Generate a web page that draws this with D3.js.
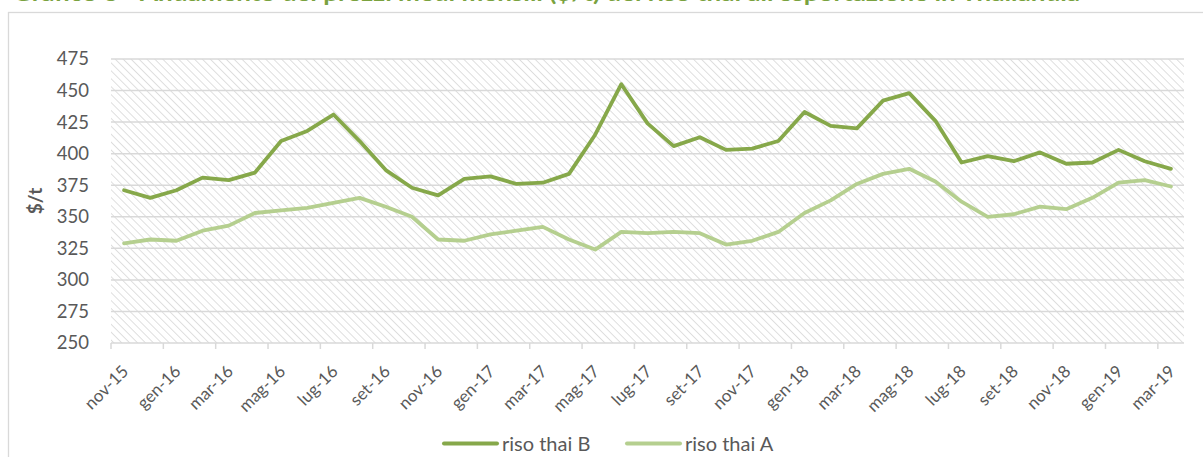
<!DOCTYPE html>
<html><head><meta charset="utf-8">
<script src="https://cdn.jsdelivr.net/npm/d3@7"></script>
<style>body{margin:0;background:#fff;}svg{display:block;font-family:Lato,"Open Sans",sans-serif;}</style>
</head><body>
<svg id="c" width="1203" height="457"></svg>
<script>
const categories = ["nov-15","dic-15","gen-16","feb-16","mar-16","apr-16","mag-16","giu-16","lug-16","ago-16","set-16","ott-16",
"nov-16","dic-16","gen-17","feb-17","mar-17","apr-17","mag-17","giu-17","lug-17","ago-17","set-17","ott-17",
"nov-17","dic-17","gen-18","feb-18","mar-18","apr-18","mag-18","giu-18","lug-18","ago-18","set-18","ott-18",
"nov-18","dic-18","gen-19","feb-19","mar-19"];
const risoThaiB = [371,365,371,381,379,385,410,418,431,410,387,373,367,380,382,376,377,384,415,455,424,406,413,403,404,410,433,422,420,442,448,426,393,398,394,401,392,393,403,394,388];
const risoThaiA = [329,332,331,339,343,353,355,357,361,365,358,350,332,331,336,339,342,332,324,338,337,338,337,328,331,338,353,363,376,384,388,378,362,350,352,358,356,365,377,379,374];
const yTicks = [250,275,300,325,350,375,400,425,450,475];
const seriesNames = ["riso thai B","riso thai A"];
const titleText = "Grafico 3 - Andamento dei prezzi medi mensili ($/t) del riso thai all'esportazione in Thailandia";

const svg = d3.select("#c");
const L = 111, R = 1184, T = 59, B = 343;
const colB = "#86a84a", colA = "#b5cf8f", grid = "#d9d9d9", txt = "#595959";

// frame
svg.append("rect").attr("x",8.5).attr("y",12.5).attr("width",1300).attr("height",500)
  .attr("fill","none").attr("stroke","#d9d9d9").attr("stroke-width",1.3);
// title (cut off at the top edge, as in the reference)
svg.append("text").attr("x",13).attr("y",1).attr("font-size",20).attr("font-weight","bold")
  .attr("fill","#7aa23f").attr("textLength",1067).attr("lengthAdjust","spacingAndGlyphs").text(titleText);

const defs = svg.append("defs");
const pat = defs.append("pattern").attr("id","hatch").attr("patternUnits","userSpaceOnUse")
  .attr("width",5.6).attr("height",5.6).attr("patternTransform","rotate(-45)");
pat.append("line").attr("x1",0).attr("y1",0).attr("x2",0).attr("y2",5.6)
  .attr("stroke","#d8d8d8").attr("stroke-width",1.6);

const x = d3.scaleBand().domain(categories).range([L,R]).padding(0);
const y = d3.scaleLinear().domain([250,475]).range([B,T]);
const cx = d => x(d) + x.bandwidth()/2;

svg.append("rect").attr("x",L).attr("y",T).attr("width",R-L).attr("height",B-T).attr("fill","url(#hatch)");

// gridlines
svg.append("g").selectAll("line").data(yTicks.filter(v=>v>250)).join("line")
  .attr("x1",L).attr("x2",R).attr("y1",d=>y(d)).attr("y2",d=>y(d))
  .attr("stroke",grid).attr("stroke-width",1.5);

// y axis labels
const yAxis = d3.axisLeft(y).tickValues(yTicks).tickSize(0).tickPadding(22);
const gy = svg.append("g").attr("transform",`translate(${L},0)`).call(yAxis);
gy.select(".domain").remove();
gy.selectAll("text").attr("font-size",18.5).attr("fill",txt).attr("font-family","Lato,'Open Sans',sans-serif");

svg.append("text").attr("transform","translate(42,201) rotate(-90)").attr("text-anchor","middle")
  .attr("font-size",19).attr("font-weight","bold").attr("fill",txt).text("$/t");

// x axis
svg.append("line").attr("x1",L).attr("x2",R).attr("y1",B).attr("y2",B).attr("stroke",grid).attr("stroke-width",1.5);
const tickIdx = d3.range(0, categories.length, 2);
svg.append("g").selectAll("line").data(tickIdx).join("line")
  .attr("x1",i=>x(categories[i])).attr("x2",i=>x(categories[i]))
  .attr("y1",B).attr("y2",B+6).attr("stroke",grid).attr("stroke-width",1.5);
svg.append("g").selectAll("text").data(tickIdx).join("text")
  .attr("transform",i=>`translate(${cx(categories[i])-3},${B+21}) rotate(-45)`)
  .attr("text-anchor","end").attr("dy","0.7em").attr("font-size",17).attr("fill",txt)
  .text(i=>categories[i]);

// lines
const line = d3.line().x((d,i)=>cx(categories[i])).y(d=>y(d));
svg.append("path").datum(risoThaiA).attr("d",line).attr("fill","none").attr("stroke",colA)
  .attr("stroke-width",3.8).attr("stroke-linejoin","round").attr("stroke-linecap","round");
svg.append("path").datum(risoThaiB).attr("d",line).attr("fill","none").attr("stroke",colB)
  .attr("stroke-width",3.8).attr("stroke-linejoin","round").attr("stroke-linecap","round");

// legend
const leg = [{n:seriesNames[0],c:colB,x:444},{n:seriesNames[1],c:colA,x:627}];
const lg = svg.append("g");
leg.forEach(d=>{
  lg.append("line").attr("x1",d.x).attr("x2",d.x+53).attr("y1",443.5).attr("y2",443.5)
    .attr("stroke",d.c).attr("stroke-width",4).attr("stroke-linecap","round");
  lg.append("text").attr("x",d.x+58).attr("y",451).attr("font-size",20)
    .attr("fill",txt).text(d.n);
});
</script>
</body></html>
